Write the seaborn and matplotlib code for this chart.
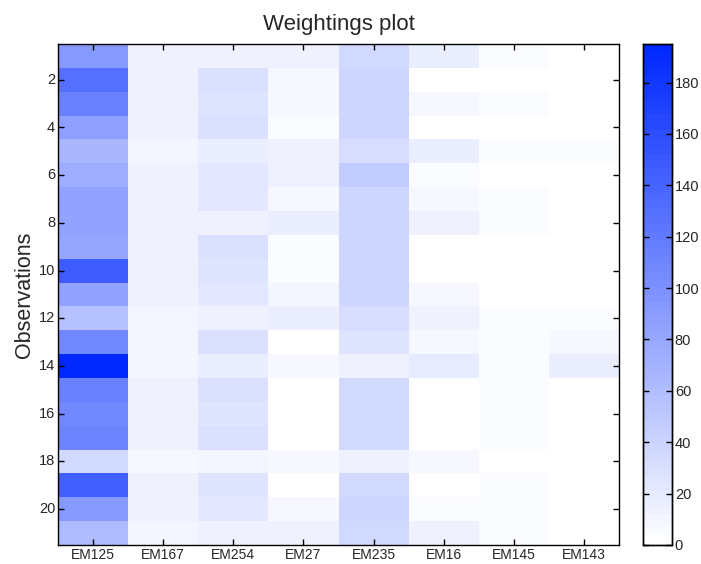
import numpy as np
import pandas as pd
import matplotlib
matplotlib.use("Agg")
import matplotlib.pyplot as plt
import seaborn as sns
from matplotlib.colors import LinearSegmentedColormap

# Weightings of each end member (columns) for every observation (rows)
members = ["EM125", "EM167", "EM254", "EM27", "EM235", "EM16", "EM145", "EM143"]
observations = list(range(1, 22))

em125 = [92, 130, 115, 88, 65, 76, 84, 84, 82, 149, 84, 57, 107, 195, 115, 107, 111, 34, 145, 92, 61]
em167 = [15, 15, 15, 15, 11, 15, 15, 15, 15, 15, 15, 11, 11, 11, 15, 15, 15, 8, 15, 15, 10]
em254 = [15, 28, 25, 28, 18, 23, 23, 15, 28, 25, 23, 14, 28, 18, 30, 27, 30, 10, 27, 23, 15]
em27 = [14, 8, 8, 6, 14, 14, 8, 18, 4, 6, 11, 18, 0, 8, 0, 0, 0, 8, 0, 8, 14]
em235 = [36, 38, 38, 38, 33, 46, 38, 38, 38, 38, 38, 33, 27, 15, 36, 36, 36, 15, 36, 38, 35]
em16 = [17, 0, 8, 0, 18, 4, 8, 15, 0, 0, 8, 15, 8, 21, 0, 0, 0, 8, 0, 5, 14]
em145 = [4, 0, 5, 0, 4, 0, 4, 4, 0, 0, 0, 4, 4, 4, 4, 4, 4, 0, 4, 4, 4]
em143 = [0, 0, 0, 0, 4, 0, 0, 0, 0, 0, 0, 4, 8, 18, 0, 0, 0, 0, 0, 0, 0]

ytick_values = list(range(2, 21, 2))
cbar_ticks = list(range(0, 181, 20))
vmax = 195

df = pd.DataFrame(
    np.column_stack([em125, em167, em254, em27, em235, em16, em145, em143]),
    index=observations, columns=members,
)

sns.set_theme(style="white")
plt.rcParams["font.family"] = ["Liberation Sans", "DejaVu Sans"]
plt.rcParams["axes.axisbelow"] = False

cmap = LinearSegmentedColormap.from_list("white_blue", ["#ffffff", "#0028ff"], N=64)

fig = plt.figure(figsize=(7.01, 5.64), dpi=100)
ax = fig.add_axes([58 / 701, 1 - 545 / 564, (619 - 58) / 701, (545 - 44) / 564])
cax = fig.add_axes([643 / 701, 1 - 545 / 564, (672 - 643) / 701, (545 - 44) / 564])

sns.heatmap(df, ax=ax, cmap=cmap, vmin=0, vmax=vmax, cbar_ax=cax,
            cbar_kws={"ticks": cbar_ticks}, linewidths=0)
ax.set_axisbelow(False)
cax.set_axisbelow(False)

ax.set_title("Weightings plot", fontsize=16, pad=10)
ax.set_ylabel("Observations", fontsize=15.5, labelpad=3)
ax.set_xlabel("")
ax.set_xticks(np.arange(len(members)) + 0.5)
ax.set_xticklabels(members, rotation=0, fontsize=10)
ax.set_yticks([v - 0.5 for v in ytick_values])
ax.set_yticklabels([str(v) for v in ytick_values], rotation=0, fontsize=10.5)
ax.tick_params(axis="both", which="major", direction="in", length=4, width=1,
               color="black", top=True, right=True, bottom=True, left=True)
ax.tick_params(axis="x", pad=2)
ax.tick_params(axis="y", pad=2)
for s in ax.spines.values():
    s.set_visible(True)
    s.set_color("black")
    s.set_linewidth(1)
    s.set_zorder(5)

cax.tick_params(axis="y", which="major", direction="in", length=4, width=1,
                color="black", left=True, right=True, labelsize=10.5, pad=2)
cax.set_yticklabels([str(t) for t in cbar_ticks])
for s in cax.spines.values():
    s.set_visible(True)
    s.set_color("black")
    s.set_linewidth(1)
    s.set_zorder(5)

fig.savefig("out.png", dpi=100)
